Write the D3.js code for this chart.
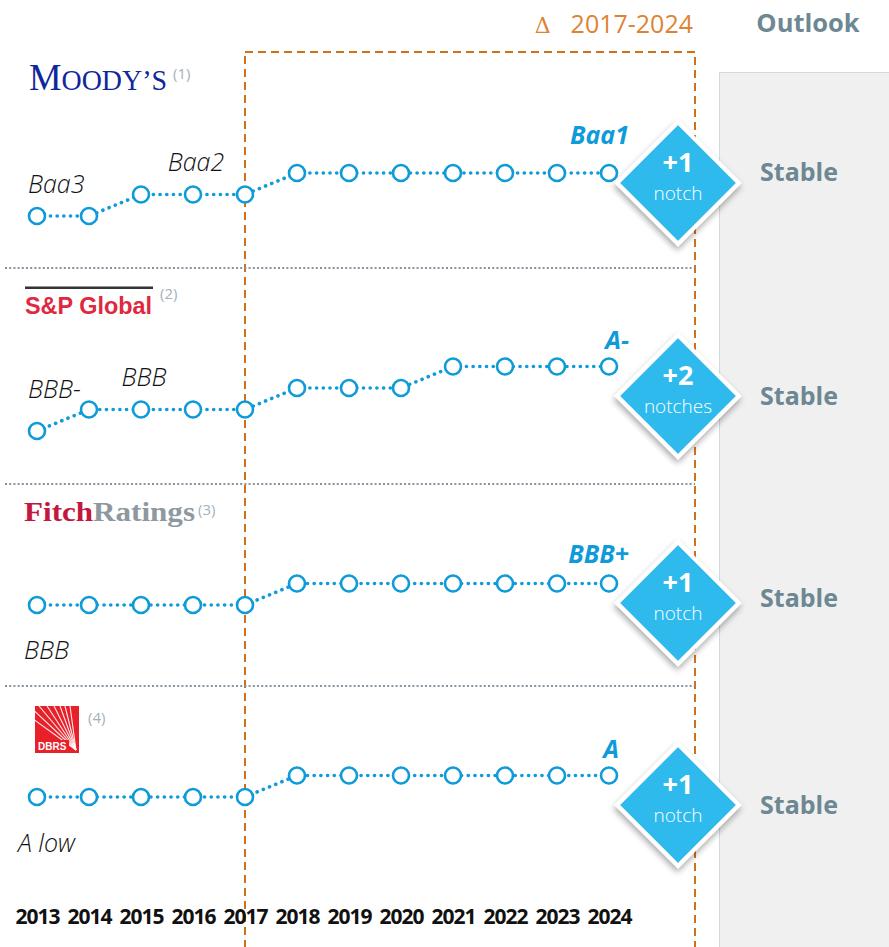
<!DOCTYPE html>
<html>
<head>
<meta charset="utf-8">
<script src="https://cdn.jsdelivr.net/npm/d3@7"></script>
<style>
  body { margin: 0; background: #fff; }
  svg { display: block; }
</style>
</head>
<body>
<svg id="chart" width="889" height="947"></svg>
<script>
// --- data ---
const years = [2013, 2014, 2015, 2016, 2017, 2018, 2019, 2020, 2021, 2022, 2023, 2024];
const agencies = ["Moody's", "S&P Global", "Fitch Ratings", "DBRS"];
const footnotes = ["(1)", "(2)", "(3)", "(4)"];

// rating level in notches above the 2013 rating
const moodysNotches = [0, 0, 1, 1, 1, 2, 2, 2, 2, 2, 2, 2];
const spNotches     = [0, 1, 1, 1, 1, 2, 2, 2, 3, 3, 3, 3];
const fitchNotches  = [0, 0, 0, 0, 0, 1, 1, 1, 1, 1, 1, 1];
const dbrsNotches   = [0, 0, 0, 0, 0, 1, 1, 1, 1, 1, 1, 1];
const notchSeries = [moodysNotches, spNotches, fitchNotches, dbrsNotches];

const startRatings = ["Baa3", "BBB-", "BBB", "A low"];
const midRatings = ["Baa2", "BBB", null, null];
const midRatingYears = [2016, 2015, null, null];
const endRatings = ["Baa1", "A-", "BBB+", "A"];
const changeNotches = [1, 2, 1, 1];
const outlooks = ["Stable", "Stable", "Stable", "Stable"];
const periodStart = 2017, periodEnd = 2024;

// --- layout ---
const W = 889, H = 947;
const rowBase = [216, 431, 605, 797];      // y of the 0-notch level
const rowDiamondY = [183, 396, 603, 805];
const rowOutlookY = [172, 396, 598, 805];
const startLabelDx = [-9, -9, -13, -19];
const startLabelDy = [-23, -33, 54, 55];
const endLabelDy = [-29, -18, -21, -18];
const separators = [268, 484, 686];
const notchStep = 21.5;
const blue = "#0e9bd8";
const grayText = "#6e8893";
const orange = "#d2701a";

const svg = d3.select("#chart");
const defs = svg.append("defs");
const shadow = defs.append("filter").attr("id", "shadow")
    .attr("x", "-30%").attr("y", "-30%").attr("width", "160%").attr("height", "160%");
shadow.append("feDropShadow")
    .attr("dx", 2).attr("dy", 3).attr("stdDeviation", 3)
    .attr("flood-color", "#000").attr("flood-opacity", 0.35);

const x = d3.scalePoint().domain(years).range([37, 609]);

drawFrame();
drawLogos();
notchSeries.forEach((s, i) => drawRow(s, i));
drawAxis();

function drawFrame() {
    // outlook panel
    svg.append("rect")
        .attr("x", 719.5).attr("y", 72.5).attr("width", W - 719).attr("height", H - 72)
        .attr("fill", "#f0f0f0").attr("stroke", "#d3dadd").attr("stroke-width", 1);

    svg.append("text")
        .attr("x", 808).attr("y", 32)
        .attr("text-anchor", "middle")
        .style("font", "700 25.5px 'Open Sans', sans-serif")
        .style("fill", grayText)
        .text("Outlook");

    // change-period box
    svg.append("rect")
        .attr("x", x(periodStart)).attr("y", 52)
        .attr("width", 695 - x(periodStart)).attr("height", H)
        .attr("fill", "none")
        .attr("stroke", orange).attr("stroke-width", 2)
        .attr("stroke-dasharray", "8 5");

    const title = svg.append("text")
        .attr("x", 693).attr("y", 33)
        .attr("text-anchor", "end")
        .style("font", "400 25px 'Open Sans', sans-serif")
        .style("fill", "#dc8434");
    title.append("tspan").style("font-family", "'DejaVu Serif', serif").style("font-size", "22px").text("\u0394");
    title.append("tspan").attr("dx", 20).text(`${periodStart}-${periodEnd}`);

    // dotted separators
    svg.selectAll(".sep")
        .data(separators)
        .enter().append("line")
        .attr("class", "sep")
        .attr("x1", 5).attr("x2", 695)
        .attr("y1", d => d).attr("y2", d => d)
        .attr("stroke", "#8594a0").attr("stroke-width", 2)
        .attr("stroke-dasharray", "2 2.2");
}

function drawLogos() {
    // Moody's
    const m = svg.append("text").attr("x", 29).attr("y", 90)
        .attr("textLength", 138).attr("lengthAdjust", "spacingAndGlyphs")
        .style("font-family", "'Liberation Serif', 'Times New Roman', serif")
        .style("fill", "#10279b");
    m.append("tspan").style("font-size", "38px").text("M");
    m.append("tspan").style("font-size", "29px").text("OODY\u2019S");

    // S&P Global
    svg.append("rect").attr("x", 25).attr("y", 286.5).attr("width", 128).attr("height", 2.5).attr("fill", "#333");
    svg.append("text").attr("x", 25).attr("y", 314)
        .attr("textLength", 127).attr("lengthAdjust", "spacingAndGlyphs")
        .style("font", "700 23px 'Liberation Sans', Arial, sans-serif")
        .style("fill", "#e0283f")
        .text("S&P Global");

    // Fitch Ratings
    const f = svg.append("text").attr("x", 24).attr("y", 521)
        .attr("textLength", 171).attr("lengthAdjust", "spacingAndGlyphs")
        .style("font", "700 27px 'Liberation Serif', 'Times New Roman', serif");
    f.append("tspan").style("fill", "#c3173f").text("Fitch");
    f.append("tspan").style("fill", "#8e989f").text("Ratings");

    // DBRS
    const g = svg.append("g").attr("transform", "translate(35,706)");
    g.append("clipPath").attr("id", "dbrs-clip")
        .append("rect").attr("width", 44).attr("height", 47);
    g.append("rect").attr("width", 44).attr("height", 47).attr("fill", "#e8202a");
    const rays = g.append("g").attr("clip-path", "url(#dbrs-clip)");
    [[-6, 0], [4, 0], [12, 0], [19, 0], [25, 0], [30, 0], [35, 0], [-6, 10]].forEach(([tx, ty]) => {
        rays.append("line")
            .attr("x1", 41).attr("y1", 44).attr("x2", tx).attr("y2", ty)
            .attr("stroke", "#fff").attr("stroke-width", 1.1).attr("opacity", 0.9);
    });
    g.append("rect").attr("x", 1).attr("y", 34).attr("width", 33).attr("height", 12).attr("fill", "#e8202a");
    g.append("text").attr("x", 3).attr("y", 44)
        .style("font", "700 10px 'Liberation Sans', Arial, sans-serif")
        .style("fill", "#fff").text("DBRS");

    // footnote markers
    const noteAt = [[173, 79], [160, 299], [198, 515], [88, 723]];
    svg.selectAll(".note")
        .data(footnotes)
        .enter().append("text")
        .attr("class", "note")
        .attr("x", (d, i) => noteAt[i][0]).attr("y", (d, i) => noteAt[i][1])
        .style("font", "400 15px 'Open Sans', sans-serif")
        .style("fill", "#a3b2bb")
        .text(d => d);
}

function drawRow(series, i) {
    const y = d3.scaleLinear().domain([0, 1]).range([rowBase[i], rowBase[i] - notchStep]);
    const pts = years.map((yr, k) => ({ year: yr, notch: series[k] }));
    const row = svg.append("g").attr("class", "row");

    const line = d3.line().x(d => x(d.year)).y(d => y(d.notch));
    row.append("path")
        .attr("d", line(pts))
        .attr("fill", "none")
        .attr("stroke", blue).attr("stroke-width", 3.6)
        .attr("stroke-linecap", "round")
        .attr("stroke-dasharray", "0.1 6.6");

    row.selectAll("circle")
        .data(pts)
        .enter().append("circle")
        .attr("cx", d => x(d.year)).attr("cy", d => y(d.notch))
        .attr("r", 8)
        .attr("fill", "#fff")
        .attr("stroke", blue).attr("stroke-width", 2.6);

    const italic = "italic 300 25px 'Open Sans', sans-serif";

    // first rating
    row.append("text")
        .attr("x", x(years[0]) + startLabelDx[i])
        .attr("y", y(series[0]) + startLabelDy[i])
        .style("font", italic).style("fill", "#111")
        .text(startRatings[i]);

    // intermediate rating
    if (midRatings[i]) {
        const k = years.indexOf(midRatingYears[i]);
        row.append("text")
            .attr("x", x(midRatingYears[i]) + 3)
            .attr("y", y(series[k]) - 24)
            .attr("text-anchor", "middle")
            .style("font", italic).style("fill", "#111")
            .text(midRatings[i]);
    }

    // latest rating
    const last = years.length - 1;
    row.append("text")
        .attr("x", x(years[last]) + (endRatings[i] === "A" ? 10 : 20))
        .attr("y", y(series[last]) + endLabelDy[i])
        .attr("text-anchor", "end")
        .style("font", "italic 700 25px 'Open Sans', sans-serif")
        .style("fill", blue)
        .text(endRatings[i]);

    // change diamond
    const cx = 678, cy = rowDiamondY[i], side = 86;
    const d = svg.append("g").attr("transform", `translate(${cx},${cy})`);
    d.append("rect")
        .attr("x", -side / 2).attr("y", -side / 2)
        .attr("width", side).attr("height", side)
        .attr("transform", "rotate(45)")
        .attr("fill", "#2dbaed")
        .attr("stroke", "#fff").attr("stroke-width", 4)
        .attr("filter", "url(#shadow)");
    d.append("text")
        .attr("y", -11).attr("text-anchor", "middle")
        .style("font", "700 27px 'Open Sans', sans-serif").style("fill", "#fff")
        .text(`+${changeNotches[i]}`);
    d.append("text")
        .attr("y", 17).attr("text-anchor", "middle")
        .style("font", "300 19px 'Open Sans', sans-serif").style("fill", "#fff")
        .text(changeNotches[i] === 1 ? "notch" : "notches");

    // outlook
    svg.append("text")
        .attr("x", 799).attr("y", rowOutlookY[i] + 9)
        .attr("text-anchor", "middle")
        .style("font", "700 25px 'Open Sans', sans-serif")
        .style("fill", grayText)
        .text(outlooks[i]);
}

function drawAxis() {
    const axis = d3.axisBottom(x).tickSize(0).tickPadding(0).tickFormat(d3.format("d"));
    const g = svg.append("g").attr("transform", "translate(0,909)").call(axis);
    g.select(".domain").remove();
    g.selectAll("text")
        .attr("dy", "0.71em")
        .style("font", "700 21px 'Open Sans', sans-serif")
        .style("letter-spacing", "-1px")
        .style("fill", "#111");
}
</script>
</body>
</html>
